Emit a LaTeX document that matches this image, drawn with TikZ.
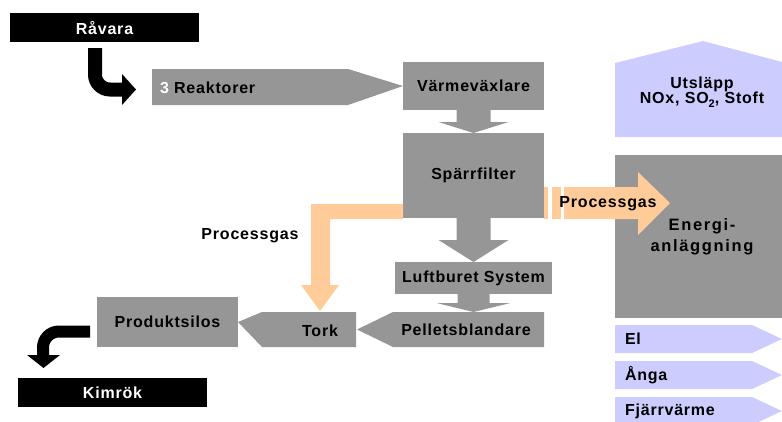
\documentclass[tikz,border=0pt]{standalone}
\usepackage{fontspec}
\setmainfont{Liberation Sans}[LetterSpace=5]
\usetikzlibrary{calc}
\definecolor{boxgray}{RGB}{150,150,150}
\definecolor{gasorange}{RGB}{255,204,153}
\definecolor{lav}{RGB}{204,204,255}
\begin{document}
\begin{tikzpicture}[x=1pt,y=-1pt,
  lbl/.style={font=\bfseries\fontsize{16}{18}\selectfont, text=black, inner sep=0pt, outer sep=0pt},
  box/.style={lbl, fill=boxgray},
  blackbox/.style={lbl, fill=black, text=white},
  blackarrow/.style={draw=black, line width=14pt},
]
\useasboundingbox (0,0) rectangle (782,421);

% black boxes
\node[blackbox, minimum width=189pt, minimum height=29pt] (ravara) at (104.5,27.5) {Råvara};
\node[blackbox, minimum width=189pt, minimum height=29pt] (kimrok) at (112.5,392.5) {Kimrök};

% gray boxes
\node[box, minimum width=141pt, minimum height=48pt] (vv) at (473.5,86) {Värmeväxlare};
\node[box, minimum width=141pt, minimum height=85pt] (sf) at (473.5,175.5) {Spärrfilter};
\node[box, minimum width=157pt, minimum height=32pt] (lb) at (473.5,278) {Luftburet System};
\node[box, minimum width=141pt, minimum height=50pt] (ps) at (167.5,322) {Produktsilos};

% Reaktorer
\fill[boxgray] (152,69) -- (348,69) -- (vv.west) -- (348,105) -- (152,105) -- cycle;
\node[lbl, anchor=west] (reak) at (160,88) {\textcolor{white}{3} Reaktorer};

% Tork and Pelletsblandare
\fill[boxgray] (ps.east) -- (262,312) -- (356,312) -- (356,347) -- (262,347) -- cycle;
\node[lbl] (tork) at (320,331) {Tork};
\fill[boxgray] (357,329.5) -- (393,312) -- (544,312) -- (544,347) -- (393,347) -- cycle;
\node[lbl] (pb) at (466,330) {Pelletsblandare};

% gray down arrows
\fill[boxgray] ($(vv.south)+(-17,0)$) -- ($(vv.south)+(17,0)$) -- ($(vv.south)+(17,12)$) -- ($(vv.south)+(35,12)$)
  -- (sf.north) -- ($(vv.south)+(-35,12)$) -- ($(vv.south)+(-17,12)$) -- cycle;
\fill[boxgray] ($(sf.south)+(-17,0)$) -- ($(sf.south)+(17,0)$) -- ($(sf.south)+(17,22)$) -- ($(sf.south)+(35,22)$)
  -- (lb.north) -- ($(sf.south)+(-35,22)$) -- ($(sf.south)+(-17,22)$) -- cycle;
\fill[boxgray] ($(lb.south)+(-16,0)$) -- ($(lb.south)+(16,0)$) -- ($(lb.south)+(16,9)$) -- ($(lb.south)+(37,9)$)
  -- (473.5,312) -- ($(lb.south)+(-37,9)$) -- ($(lb.south)+(-16,9)$) -- cycle;

% Energianläggning
\node[box, minimum width=167pt, minimum height=163pt] (en) at (698.5,236.5) {};
\node[lbl, align=center, font=\bfseries\fontsize{16.5}{21}\selectfont\addfontfeature{LetterSpace=10}] (entext) at (702,237) {Energi-\\anläggning};

% Utsläpp
\fill[lav] (615,137) -- (615,63) -- (703,41) -- (782,62) -- (782,137) -- cycle;
\node[lbl, align=center, font=\bfseries\fontsize{16}{15.5}\selectfont] (uts) at (702,92)
  {Utsläpp\\NOx, SO\raisebox{-3.5pt}{\fontsize{11}{11}\selectfont 2}, Stoft};

% Outputs
\fill[lav] (615,325) -- (752,325) -- (782,339) -- (752,353) -- (615,353) -- cycle;
\fill[lav] (615,361) -- (752,361) -- (782,375) -- (752,389) -- (615,389) -- cycle;
\fill[lav] (615,397) -- (752,397) -- (782,411) -- (752,425) -- (615,425) -- cycle;
\node[lbl, anchor=west] (el) at (625,339) {El};
\node[lbl, anchor=west] (anga) at (625,375) {Ånga};
\node[lbl, anchor=west] (fv) at (625,411) {Fjärrvärme};

% orange process gas arrows
\fill[gasorange] (403,204) -- (311,204) -- (311,285) -- (301,285) -- (320,311) -- (339,285) -- (330,285) -- (330,219) -- (403,219) -- cycle;
\node[lbl] (pg1) at (250,236) {Processgas};
\fill[gasorange] (544,187) rectangle (548,219);
\fill[gasorange] (552,187) rectangle (561,219);
\fill[gasorange] (564,187) -- (638,187) -- (638,172) -- (670,203) -- (638,235) -- (638,219) -- (564,219) -- cycle;
\node[lbl] (pg2) at (608,204) {Processgas};

% black arrows
\draw[blackarrow, rounded corners=15pt] (95,48) |- (123,89.5);
\fill[black] (122,74) -- (136,89.5) -- (122,105) -- cycle;
\draw[blackarrow, line width=12pt, rounded corners=16pt] (90,331.5) -| (43,356);
\fill[black] (27,355) -- (60,355) -- (43.5,368) -- cycle;
\end{tikzpicture}
\end{document}
